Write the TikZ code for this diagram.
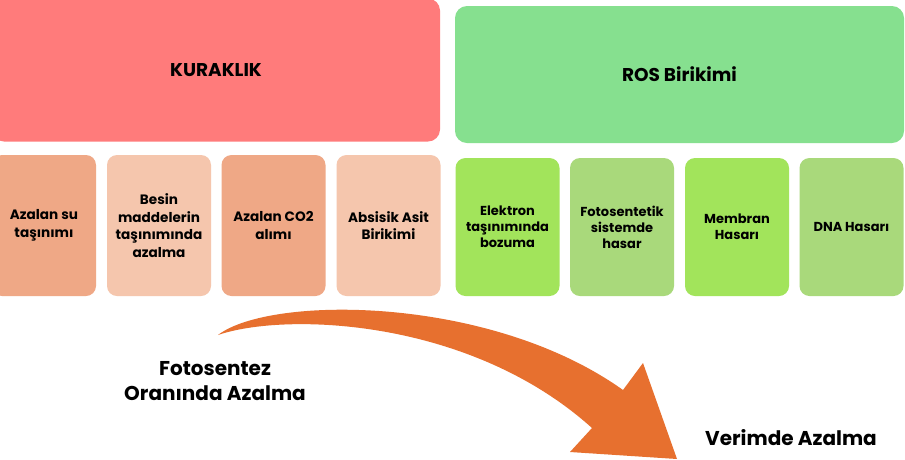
\documentclass[tikz,border=0pt]{standalone}
\usepackage{fontspec}
\setmainfont{Poppins}
\definecolor{kurred}{HTML}{FF7B7B}
\definecolor{peachdark}{HTML}{EFA886}
\definecolor{peachlight}{HTML}{F5C6AD}
\definecolor{rosgreen}{HTML}{86E08F}
\definecolor{greenbright}{HTML}{A2E45B}
\definecolor{greenmuted}{HTML}{A9D97B}
\definecolor{arroworange}{HTML}{E7702F}
\begin{document}
\begin{tikzpicture}[x=1pt,y=-1pt,
  bigbox/.style={rounded corners=12pt, inner sep=0pt, align=center, text=black,
    font=\bfseries\fontsize{18.5}{22}\selectfont},
  lbox/.style={rounded corners=10pt, inner sep=0pt, align=center, text=black,
    minimum width=104, minimum height=141,
    font=\bfseries\fontsize{13.6}{17.5}\selectfont},
  rbox/.style={rounded corners=10pt, inner sep=0pt, align=center, text=black,
    minimum width=104, minimum height=138,
    font=\bfseries\fontsize{13}{16}\selectfont},
  label/.style={inner sep=0pt, align=center, text=black,
    font=\bfseries\fontsize{20}{25}\selectfont}
]
\useasboundingbox (0,0) rectangle (905,459);
\fill[white] (0,0) rectangle (905,459);
\begin{scope}
\clip (0,0) rectangle (905,459);
% top boxes
\node[bigbox, fill=kurred, minimum width=448, minimum height=143] (kur) at (216,70) {KURAKLIK};
\node[bigbox, fill=rosgreen, minimum width=449, minimum height=137] (ros) at (679.5,74.5) {ROS Birikimi};
% left small boxes
\node[lbox, fill=peachdark] (l1) at (44,225.5) {Azalan su\\taşınımı};
\node[lbox, fill=peachlight] (l2) at (159,225.5) {Besin\\maddelerin\\taşınımında\\azalma};
\node[lbox, fill=peachdark] (l3) at (273.5,225.5) {Azalan CO2\\alımı};
\node[lbox, fill=peachlight] (l4) at (388.5,225.5) {Absisik Asit\\Birikimi};
% right small boxes
\node[rbox, fill=greenbright] (r1) at (507.5,227) {Elektron\\taşınımında\\bozuma};
\node[rbox, fill=greenmuted] (r2) at (622,227) {Fotosentetik\\sistemde\\hasar};
\node[rbox, fill=greenbright] (r3) at (737,227) {Membran\\Hasarı};
\node[rbox, fill=greenmuted] (r4) at (851.5,227) {DNA Hasarı};
% curved arrow
\fill[arroworange] (218,335) .. controls (270,295) and (490,295) .. (623,390)
  -- (643,363) -- (677,459) -- (570,452) -- (592,428)
  .. controls (470,318) and (285,312) .. (218,335) -- cycle;
% labels
\node[label] (fot) at (215,381) {Fotosentez\\Oranında Azalma};
\node[label] (ver) at (791,438) {Verimde Azalma};
\end{scope}
\end{tikzpicture}
\end{document}
